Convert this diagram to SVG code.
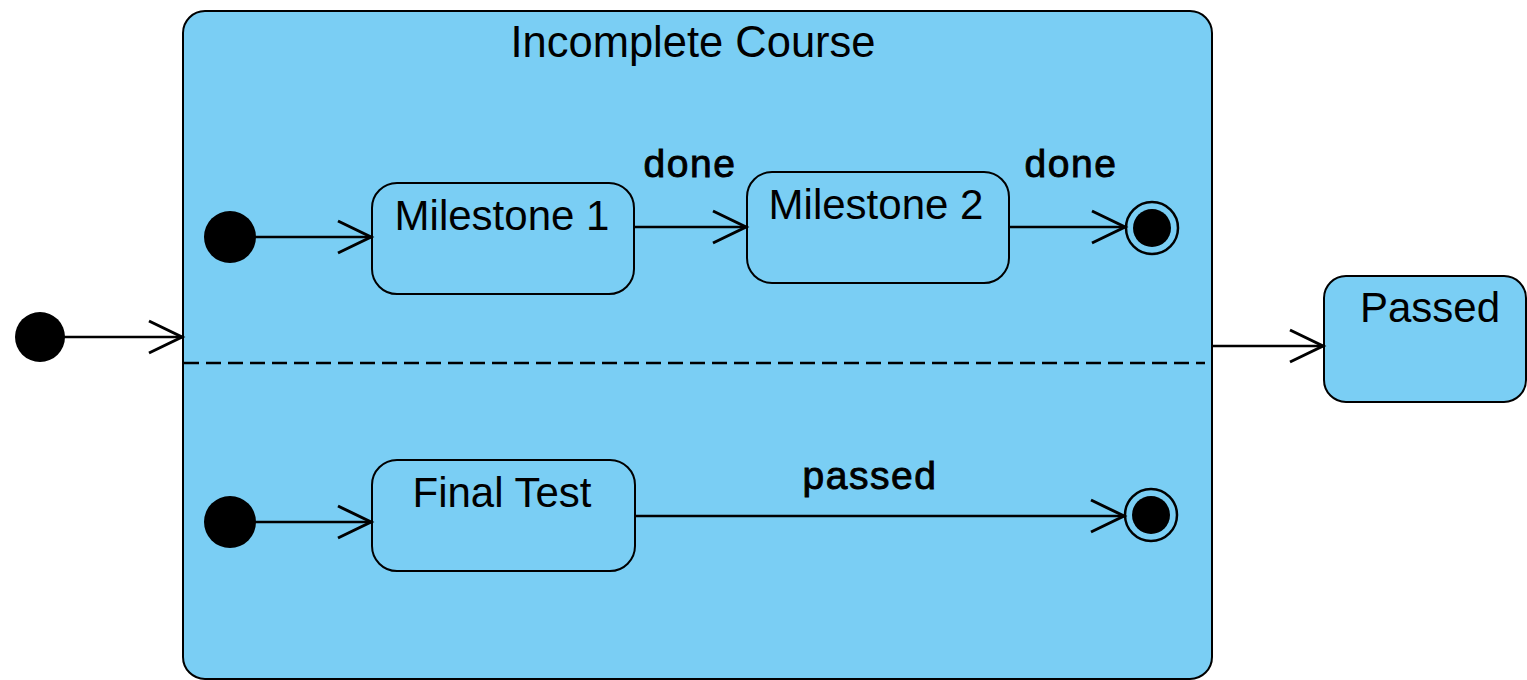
<svg xmlns="http://www.w3.org/2000/svg" width="1527" height="680" viewBox="0 0 1527 680">
  <style>
    .state { fill: #7acef4; stroke: #000; stroke-width: 2; }
    .lbl { font-family: "Liberation Sans", Arial, sans-serif; fill: #000; text-anchor: middle; }
    .name { font-size: 42px; }
    .title { font-size: 43.5px; }
    .evt { font-size: 39px; stroke: #000; stroke-width: 0.9px; letter-spacing: 1.5px; }
    .conn { stroke: #000; stroke-width: 2.5; fill: none; }
    .dot { fill: #000; }
  </style>
  <defs>
    <marker id="open" markerUnits="userSpaceOnUse" markerWidth="40" markerHeight="40" viewBox="-36 -20 40 40" refX="0" refY="0" orient="auto">
      <path d="M -33 -16 L 0 0 L -33 16" fill="none" stroke="#000" stroke-width="3"/>
    </marker>
  </defs>
  <rect width="1527" height="680" fill="#fff"/>

  <g id="incomplete-course">
    <rect class="state" x="183" y="11" width="1029" height="668" rx="22" ry="22"/>
    <text class="lbl title" x="693" y="57">Incomplete Course</text>
    <line x1="184" y1="363" x2="1205" y2="363" stroke="#000" stroke-width="2.5" stroke-dasharray="15 7"/>
  </g>

  <g id="initial-outer">
    <circle class="dot" cx="40" cy="337" r="25"/>
  </g>
  <g id="initial-top">
    <circle class="dot" cx="230" cy="237" r="26"/>
  </g>
  <g id="initial-bottom">
    <circle class="dot" cx="230" cy="522" r="26"/>
  </g>

  <g id="milestone-1">
    <rect class="state" x="372" y="183" width="262" height="111" rx="25" ry="25"/>
    <text class="lbl name" x="502" y="230">Milestone 1</text>
  </g>
  <g id="milestone-2">
    <rect class="state" x="747" y="172" width="262" height="111" rx="25" ry="25"/>
    <text class="lbl name" x="876" y="219">Milestone 2</text>
  </g>
  <g id="final-test">
    <rect class="state" x="372" y="460" width="263" height="111" rx="25" ry="25"/>
    <text class="lbl name" x="502" y="507">Final Test</text>
  </g>
  <g id="passed">
    <rect class="state" x="1324" y="276" width="202" height="126" rx="22" ry="22"/>
    <text class="lbl name" x="1430" y="322">Passed</text>
  </g>

  <g id="final-top">
    <circle cx="1152" cy="228" r="26" fill="none" stroke="#000" stroke-width="2.5"/>
    <circle class="dot" cx="1152" cy="228" r="19"/>
  </g>
  <g id="final-bottom">
    <circle cx="1151" cy="515" r="26" fill="none" stroke="#000" stroke-width="2.5"/>
    <circle class="dot" cx="1151" cy="515" r="19"/>
  </g>

  <g id="connectors">
    <line class="conn" x1="64" y1="337" x2="182" y2="337" marker-end="url(#open)"/>
    <line class="conn" x1="255" y1="237" x2="371" y2="237" marker-end="url(#open)"/>
    <line class="conn" x1="634" y1="227" x2="746" y2="227" marker-end="url(#open)"/>
    <line class="conn" x1="1009" y1="227" x2="1125" y2="227" marker-end="url(#open)"/>
    <line class="conn" x1="255" y1="522" x2="371" y2="522" marker-end="url(#open)"/>
    <line class="conn" x1="635" y1="516" x2="1124" y2="516" marker-end="url(#open)"/>
    <line class="conn" x1="1212" y1="346" x2="1323" y2="346" marker-end="url(#open)"/>
    <text class="lbl evt" x="690" y="177">done</text>
    <text class="lbl evt" x="1071" y="177">done</text>
    <text class="lbl evt" x="870" y="489">passed</text>
  </g>
</svg>
